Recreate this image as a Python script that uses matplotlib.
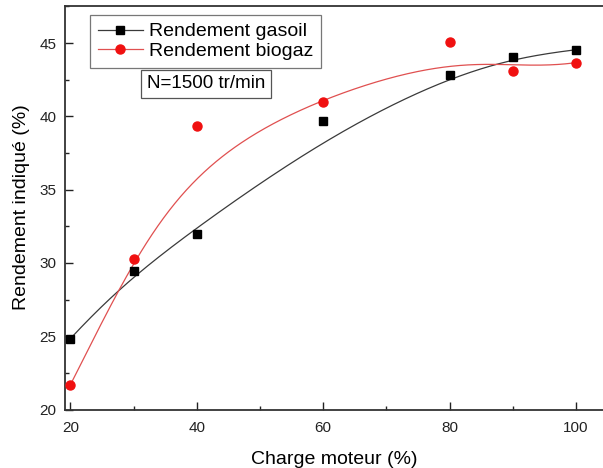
import numpy as np
import matplotlib
matplotlib.use("Agg")
import matplotlib.pyplot as plt
from matplotlib.ticker import MultipleLocator

plt.rcParams['font.family'] = ['Liberation Sans', 'DejaVu Sans']

charge = [20, 30, 40, 60, 80, 90, 100]
gasoil = [24.84, 29.48, 31.97, 39.65, 42.84, 44.02, 44.54]
biogaz = [21.7, 30.25, 39.36, 41.0, 45.09, 43.09, 43.66]


def bspline(xs, ys, k=5, num=400):
    """Clamped uniform B-spline with the data points as control points."""
    P = np.column_stack([xs, ys]).astype(float)
    n = len(P)
    m = n - k - 1
    interior = np.arange(1, m + 1) / (m + 1)
    knots = np.concatenate([np.zeros(k + 1), interior, np.ones(k + 1)])
    ts = np.linspace(0, 1, num)
    out = []
    for t in ts:
        s = min(np.searchsorted(knots, t, side='right') - 1, n - 1)
        d = [P[j + s - k].copy() for j in range(k + 1)]
        for r in range(1, k + 1):
            for j in range(k, r - 1, -1):
                i = j + s - k
                denom = knots[i + k + 1 - r] - knots[i]
                a = 0.0 if denom == 0 else (t - knots[i]) / denom
                d[j] = (1 - a) * d[j - 1] + a * d[j]
        out.append(d[k])
    out = np.array(out)
    return out[:, 0], out[:, 1]


W, H = 603, 468
fig = plt.figure(figsize=(W / 100, H / 100), dpi=100)
ax = fig.add_axes([65 / W, 1 - 409.5 / H, 1 - 65 / W, (409.5 - 5.5) / H])

gx, gy = bspline(charge, gasoil)
bx, by = bspline(charge, biogaz)
ax.plot(gx, gy, color='#3a3a3a', lw=0.9, zorder=2)
ax.plot(bx, by, color='#e05050', lw=0.9, zorder=2)
ax.plot(charge, gasoil, 's', color='black', ms=6, zorder=3)
ax.plot(charge, biogaz, 'o', color='#f01010', ms=6.5, zorder=3)

h1, = ax.plot([], [], '-s', color='#3a3a3a', mfc='black', mec='black', lw=0.9, ms=6,
              label='Rendement gasoil')
h2, = ax.plot([], [], '-o', color='#e05050', mfc='#f01010', mec='#f01010', lw=0.9, ms=6.5,
              label='Rendement biogaz')

leg = fig.legend(handles=[h1, h2], loc='upper left', bbox_to_anchor=(90 / W, 1 - 15 / H),
                 bbox_transform=fig.transFigure,
                 fontsize=14, frameon=True, fancybox=False, edgecolor='#555555',
                 handlelength=2.3, handletextpad=0.35, borderpad=0.4, labelspacing=0.1,
                 borderaxespad=0)
leg.get_frame().set_linewidth(0.9)

fig.text(206 / W, 1 - 84 / H, 'N=1500 tr/min', fontsize=13.5, ha='center', va='center',
         bbox=dict(boxstyle='square,pad=0.3', fc='white', ec='#555555', lw=0.9))

ax.set_xlim(19.13, 104.3)
ax.set_ylim(20, 47.56)
ax.xaxis.set_major_locator(MultipleLocator(20))
ax.xaxis.set_minor_locator(MultipleLocator(10))
ax.yaxis.set_major_locator(MultipleLocator(5))
ax.yaxis.set_minor_locator(MultipleLocator(2.5))
ax.tick_params(which='both', direction='in', top=False, right=False, labelsize=11,
               width=1.0, colors='#222222')
ax.tick_params(which='major', length=5.5)
ax.tick_params(which='minor', length=3)
ax.tick_params(axis='y', pad=6)
ax.tick_params(axis='x', pad=8)
ax.spines['right'].set_visible(False)
for s in ['left', 'bottom', 'top']:
    ax.spines[s].set_linewidth(1.3)
    ax.spines[s].set_color('#333333')

ax.set_xlabel('Charge moteur (%)', fontsize=14, labelpad=12)
ax.set_ylabel('Rendement indiqué (%)', fontsize=14, labelpad=7)

fig.savefig('out.png', dpi=100)
